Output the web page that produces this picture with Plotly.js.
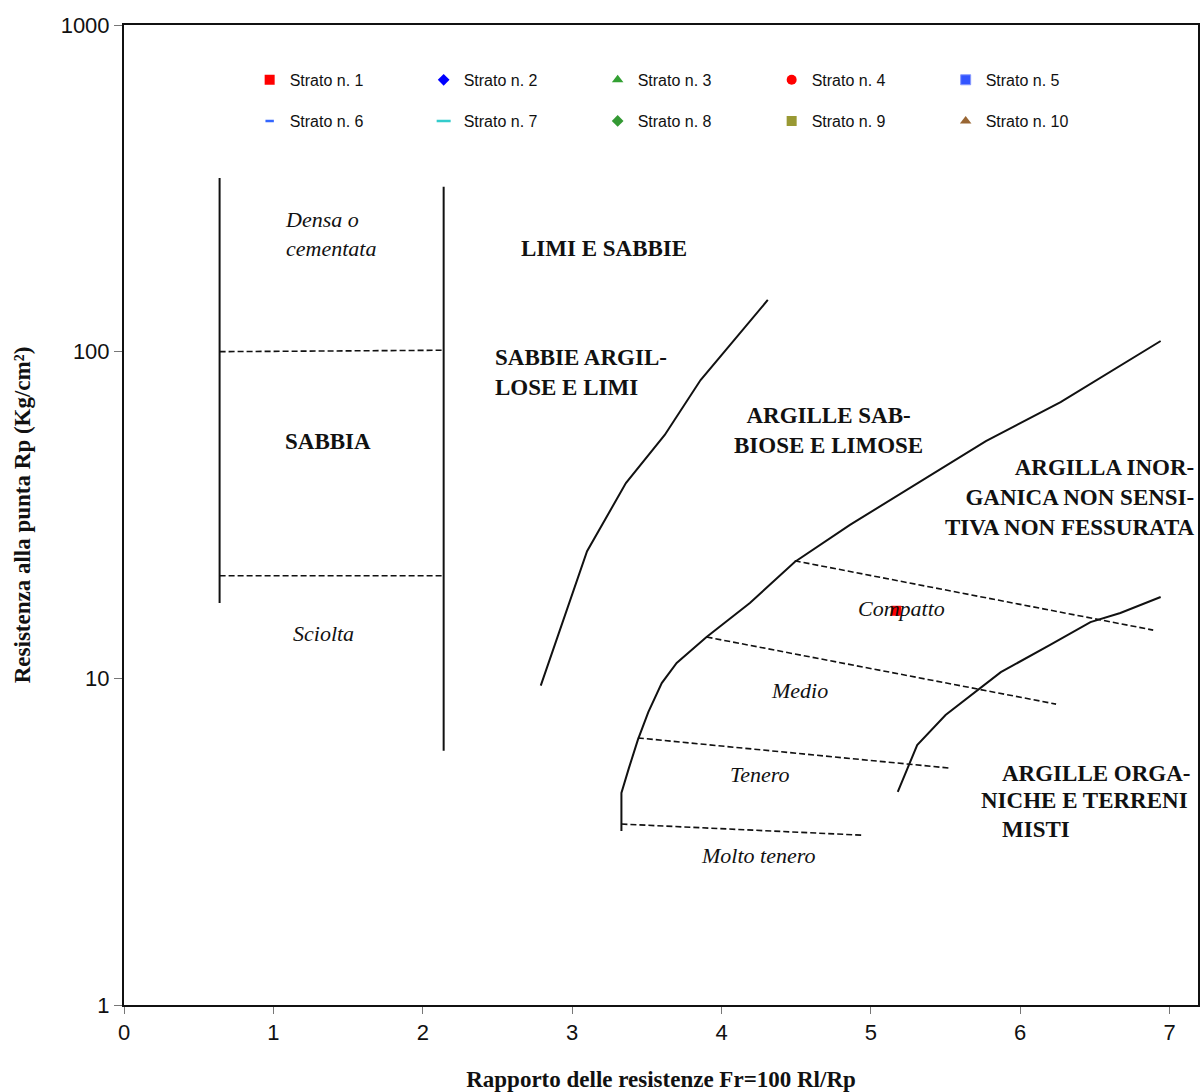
<!DOCTYPE html>
<html>
<head>
<meta charset="utf-8">
<script src="https://cdn.plot.ly/plotly-3.0.1.min.js"></script>
<style>html,body{margin:0;padding:0;background:#fff;}#chart{width:1200px;height:1092px;}</style>
</head>
<body>
<div id="chart"></div>
<script>
// ---- Data: measured points ----
const strato1X = [5.17];
const strato1Y = [16.1];
const emptyX = [null];
const emptyY = [null];
const strataNames = ["Strato n. 1","Strato n. 2","Strato n. 3","Strato n. 4","Strato n. 5",
                     "Strato n. 6","Strato n. 7","Strato n. 8","Strato n. 9","Strato n. 10"];

// ---- Classification chart boundaries (Schmertmann) ----
const sandLeftX = [0.64, 0.64];
const sandLeftY = [17, 340];
const sandRightX = [2.14, 2.14];
const sandRightY = [6.0, 320];
const sandDenseX = [0.64, 2.13];
const sandDenseY = [100, 101];
const sandLooseX = [0.64, 2.13];
const sandLooseY = [20.6, 20.6];

const curveAX = [2.79, 3.10, 3.36, 3.62, 3.86, 4.31];
const curveAY = [9.5, 24.5, 39.6, 55.6, 81.9, 144];

const curveBX = [3.33, 3.33, 3.38, 3.44, 3.51, 3.60, 3.70, 3.90, 4.19, 4.49, 4.86, 5.33, 5.77, 6.27, 6.94];
const curveBY = [3.41, 4.46, 5.31, 6.48, 7.88, 9.67, 11.14, 13.38, 17.0, 22.7, 29.5, 39.9, 53.2, 70.1, 107.8];

const curveCX = [5.18, 5.31, 5.50, 5.87, 6.20, 6.47, 6.67, 6.94];
const curveCY = [4.49, 6.25, 7.72, 10.45, 12.65, 14.87, 15.85, 17.74];

const dashCompattoX = [4.49, 6.89];
const dashCompattoY = [22.9, 14.05];
const dashMedioX = [3.90, 6.24];
const dashMedioY = [13.38, 8.34];
const dashTeneroX = [3.44, 5.53];
const dashTeneroY = [6.57, 5.31];
const dashMoltoX = [3.33, 4.94];
const dashMoltoY = [3.58, 3.31];

const solidLines = [[sandLeftX, sandLeftY],[sandRightX, sandRightY],[curveAX, curveAY],[curveBX, curveBY],[curveCX, curveCY]];
const dashedLines = [[sandDenseX, sandDenseY],[sandLooseX, sandLooseY],[dashCompattoX, dashCompattoY],[dashMedioX, dashMedioY],[dashTeneroX, dashTeneroY],[dashMoltoX, dashMoltoY]];

const traces = [];
solidLines.forEach(function(l){
  traces.push({x:l[0], y:l[1], mode:'lines', showlegend:false, hoverinfo:'skip',
    line:{color:'#111', width:2}});
});
dashedLines.forEach(function(l){
  traces.push({x:l[0], y:l[1], mode:'lines', showlegend:false, hoverinfo:'skip',
    line:{color:'#111', width:1.6, dash:'6px,3px'}});
});

const markerStyles = [
  {symbol:'square', color:'#ff0000', size:10},
  {symbol:'diamond', color:'#0000ff', size:9},
  {symbol:'triangle-up', color:'#33a033', size:10},
  {symbol:'circle', color:'#ff0000', size:10},
  {symbol:'square', color:'#3355ff', size:10, line:{color:'#8899ff', width:1}},
  {symbol:'line-ew', color:'#3366ff', size:6, line:{color:'#3366ff', width:2.5}},
  {symbol:'line-ew', color:'#33cccc', size:10, line:{color:'#33cccc', width:2.5}},
  {symbol:'diamond', color:'#339933', size:9},
  {symbol:'square', color:'#999933', size:10},
  {symbol:'triangle-up', color:'#996633', size:10}
];

strataNames.forEach(function(name, i){
  const ms = markerStyles[i];
  traces.push({
    x: i === 0 ? strato1X : emptyX,
    y: i === 0 ? strato1Y : emptyY,
    mode:'markers', name:name, showlegend:true,
    legend: i < 5 ? 'legend' : 'legend2',
    marker:{symbol:ms.symbol, color:ms.color, size:ms.size, line: ms.line || {width:0}}
  });
});

const bold = {family:'Liberation Serif, Times New Roman, serif', size:23, color:'#111', weight:'bold'};
const ital = {family:'Liberation Serif, Times New Roman, serif', size:22, color:'#111', style:'italic'};

function ann(text, x, ly, font, xanchor, align){
  return {text:text, x:x, y:ly, xref:'x', yref:'y', showarrow:false,
    xanchor:xanchor||'center', yanchor:'middle', align:align||'center', font:font};
}

const annotations = [
  ann('Densa o<br>cementata', 1.065, 2.36, ital, 'left', 'left'),
  ann('<b>LIMI E SABBIE</b>', 3.215, 2.317, bold),
  ann('<b>SABBIE ARGIL-<br>LOSE E LIMI</b>', 2.472, 1.9376, bold, 'left', 'left'),
  ann('<b>SABBIA</b>', 1.366, 1.726, bold),
  ann('<b>ARGILLE SAB-<br>BIOSE E LIMOSE</b>', 4.715, 1.760, bold),
  ann('<b>ARGILLA INOR-<br>GANICA NON SENSI-<br>TIVA NON FESSURATA</b>', 7.185, 1.555, bold, 'right', 'right'),
  ann('<b>ARGILLE ORGA-</b>', 5.867, 0.710, bold, 'left', 'left'),
  ann('<b>NICHE E TERRENI</b>', 5.727, 0.6275, bold, 'left', 'left'),
  ann('<b>MISTI</b>', 5.867, 0.5387, bold, 'left', 'left'),
  ann('Compatto', 5.204, 1.2152, ital),
  ann('Medio', 4.521, 0.9642, ital),
  ann('Tenero', 4.260, 0.7071, ital),
  ann('Molto tenero', 4.246, 0.4591, ital),
  ann('Sciolta', 1.333, 1.1387, ital)
];

const legendFont = {family:'Liberation Sans, Arial, sans-serif', size:16, color:'#111'};
const layout = {
  width:1200, height:1092,
  margin:{l:124, r:2, t:25, b:87},
  paper_bgcolor:'#fff', plot_bgcolor:'#fff',
  xaxis:{
    range:[0, 7.19], tickvals:[0,1,2,3,4,5,6,7], showgrid:false, zeroline:false,
    showline:true, linecolor:'#111', linewidth:2, mirror:true,
    ticks:'outside', ticklen:7, tickwidth:1, tickcolor:'#777',
    tickfont:{family:'Liberation Sans, Arial, sans-serif', size:22, color:'#111'},
    title:{text:'Rapporto delle resistenze Fr=100 Rl/Rp', standoff:27,
      font:{family:'Liberation Serif, Times New Roman, serif', size:23, color:'#111', weight:'bold'}}
  },
  yaxis:{
    type:'log', range:[0,3], tickvals:[1,10,100,1000], ticktext:['1','10','100','1000'],
    showgrid:false, zeroline:false,
    showline:true, linecolor:'#111', linewidth:2, mirror:true,
    ticks:'outside', ticklen:8, tickwidth:1, tickcolor:'#777',
    tickfont:{family:'Liberation Sans, Arial, sans-serif', size:22, color:'#111'},
    title:{text:'Resistenza alla punta Rp (Kg/cm²)', standoff:24,
      font:{family:'Liberation Serif, Times New Roman, serif', size:23, color:'#111', weight:'bold'}}
  },
  legend:{orientation:'h', x:0.117, y:0.944, xanchor:'left', yanchor:'middle',
    entrywidth:129, entrywidthmode:'pixels', bgcolor:'rgba(0,0,0,0)', font:legendFont},
  legend2:{orientation:'h', x:0.117, y:0.902, xanchor:'left', yanchor:'middle',
    entrywidth:129, entrywidthmode:'pixels', bgcolor:'rgba(0,0,0,0)', font:legendFont},
  annotations:annotations,
  showlegend:true
};

Plotly.newPlot('chart', traces, layout, {displayModeBar:false, staticPlot:true});
</script>
</body>
</html>
